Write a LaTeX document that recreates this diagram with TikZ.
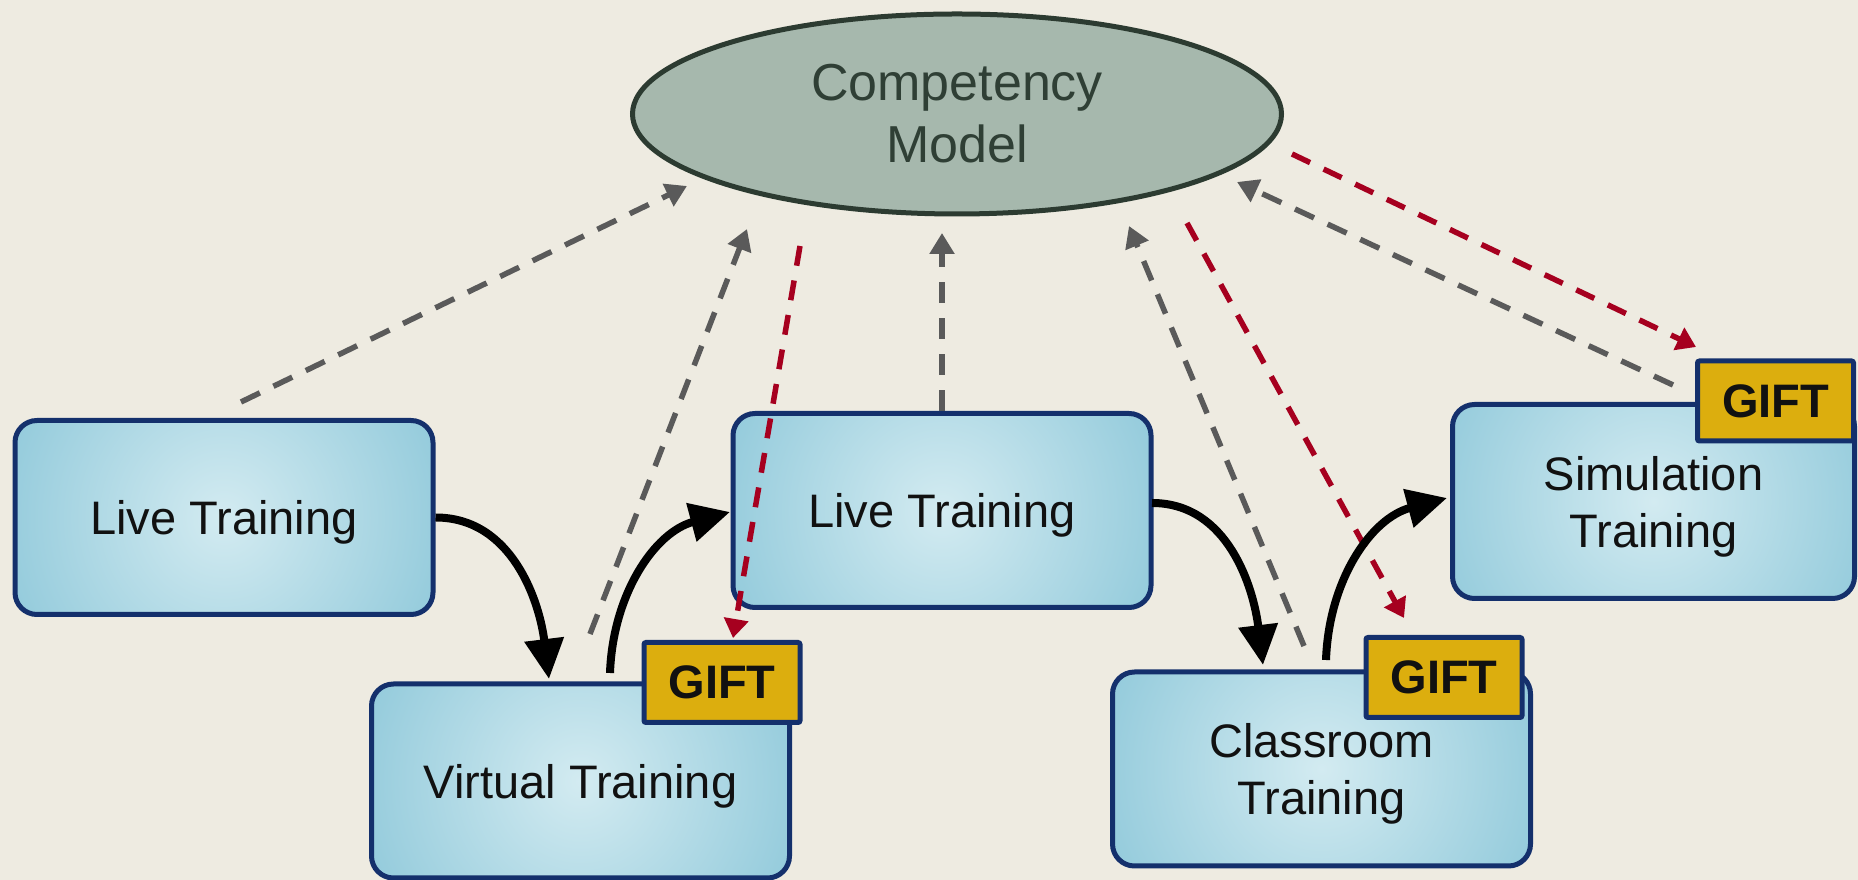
\documentclass[tikz,border=0pt]{standalone}
\usepackage{fontspec}
\setmainfont{Liberation Sans}
\usetikzlibrary{arrows.meta,shapes.geometric,calc}
\definecolor{bg}{HTML}{EEEBE1}
\definecolor{navy}{HTML}{14306C}
\definecolor{boxin}{HTML}{D3EBF1}
\definecolor{boxout}{HTML}{92CADB}
\definecolor{giftfill}{HTML}{DCAE0E}
\definecolor{ellfill}{HTML}{A6B8AD}
\definecolor{elldraw}{HTML}{2C3B31}
\definecolor{elltext}{HTML}{2F3F35}
\definecolor{dgray}{HTML}{5A5A5A}
\definecolor{dred}{HTML}{A6001F}
\definecolor{txt}{HTML}{111111}
\begin{document}
\begin{tikzpicture}[x=1pt,y=1pt,
  trainbox/.style={draw=navy, line width=5pt, rounded corners=22pt, fill=boxout,
    minimum width=418pt, minimum height=194pt, inner sep=0pt, align=center, text=txt,
    text depth=0pt, font=\fontsize{47}{57}\selectfont,
    path picture={\shade[inner color=boxin, outer color=boxout]
      (path picture bounding box.center) circle (235pt);}},
  gift/.style={draw=navy, line width=5pt, rounded corners=2pt, fill=giftfill,
    minimum width=156pt, minimum height=80pt, inner sep=0pt, text=txt,
    font=\fontsize{47}{56}\selectfont\bfseries},
  compmodel/.style={ellipse, draw=elldraw, line width=5pt, fill=ellfill,
    minimum width=649pt, minimum height=200pt, inner sep=0pt, align=center,
    text=elltext, font=\fontsize{52}{62}\selectfont},
  gdash/.style={draw=dgray, line width=5.5pt, dash pattern=on 21pt off 15pt,
    -{Triangle[length=21pt,width=24pt]}},
  rdash/.style={draw=dred, line width=5.5pt, dash pattern=on 20pt off 15pt,
    -{Triangle[length=19pt,width=24pt]}},
  flow/.style={draw=black, line width=8pt, -{Triangle[length=40pt,width=38pt]}}
]
\useasboundingbox (0,0) rectangle (1858,880);
\fill[bg] (0,0) rectangle (1858,880);

% nodes
\node[compmodel] (comp) at (957,766) {Competency\\Model};
\node[trainbox] (live1) at (224,362.5) {Live Training};
\node[trainbox] (virtual) at (580.5,99) {Virtual Training};
\node[trainbox] (live2) at (942,369.5) {Live Training};
\node[trainbox] (classroom) at (1321.5,111) {Classroom\\Training};
\node[trainbox, minimum width=402pt] (simulation) at (1653.5,378.5) {Simulation\\Training};
\node[gift] (gift1) at (722,197.5) {GIFT};
\node[gift] (gift2) at (1444,202.5) {GIFT};
\node[gift] (gift3) at (1775.5,479) {GIFT};

% free ends
\coordinate (g1s) at (241,478);  \coordinate (g1e) at (687,694);
\coordinate (g2s) at (590,246);  \coordinate (g2e) at (747,651);
\coordinate (g3e) at (942,647);
\coordinate (g4s) at (1304,234); \coordinate (g4e) at (1129,654);
\coordinate (g5s) at (1673,495); \coordinate (g5e) at (1237,698);
\coordinate (r1s) at (800,634);  \coordinate (r1e) at (733,242);
\coordinate (r2s) at (1187,657); \coordinate (r2e) at (1404,262);
\coordinate (r3s) at (1292,726); \coordinate (r3e) at (1696,533);
\coordinate (a1e) at (549,201);
\coordinate (a2s) at (610,207);  \coordinate (a2e) at (730,368);
\coordinate (a3s) at (1152,377); \coordinate (a3e) at (1263,215);
\coordinate (a4s) at (1326,220); \coordinate (a4e) at (1447,382);

% dashed connectors
\draw[gdash] (g1s) -- (g1e);
\draw[gdash] (g2s) -- (g2e);
\draw[gdash] (live2.north) -- (g3e);
\draw[gdash] (g4s) -- (g4e);
\draw[gdash] (g5s) -- (g5e);
\draw[rdash] (r1s) -- (r1e);
\draw[rdash] (r2s) -- (r2e);
\draw[rdash] (r3s) -- (r3e);

% flow arrows
\draw[flow] (live1.east) to[out=0,in=97] (a1e);
\draw[flow] (a2s) to[out=88,in=195] (a2e);
\draw[flow] (a3s) to[out=0,in=97] (a3e);
\draw[flow] (a4s) to[out=88,in=195] (a4e);
\end{tikzpicture}
\end{document}
